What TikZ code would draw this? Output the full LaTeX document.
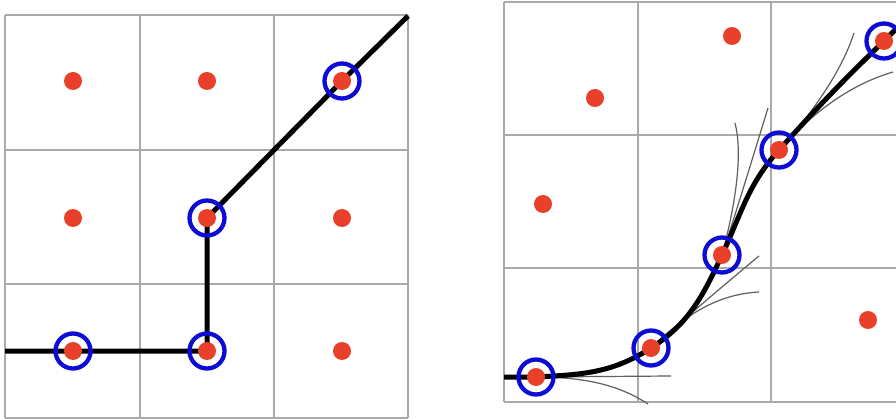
\documentclass[tikz,border=0pt]{standalone}
\definecolor{dotred}{RGB}{232,64,42}
\definecolor{ringblue}{RGB}{12,12,212}
\definecolor{gridgray}{RGB}{170,170,170}
\definecolor{tangray}{RGB}{95,95,95}
\tikzset{
  dot/.style={circle, fill=dotred, inner sep=0pt, minimum size=18pt},
  ring/.style={circle, draw=ringblue, line width=4.3pt, inner sep=0pt, minimum size=35pt},
  gridline/.style={draw=gridgray, line width=1.2pt},
  thickpath/.style={draw=black, line width=5pt, line join=round},
  tanline/.style={draw=tangray, line width=1.2pt},
}
\begin{document}
\begin{tikzpicture}[x=1pt,y=-1pt]
\useasboundingbox (0,0) rectangle (896,419);
\fill[white] (0,0) rectangle (896,419);
% ---------- left panel grid ----------
\foreach \x in {5,140,274,408} \draw[gridline] (\x,15) -- (\x,418);
\foreach \y in {15,150,284,418} \draw[gridline] (5,\y) -- (408,\y);
% ---------- right panel grid ----------
\foreach \x in {504,638,771} \draw[gridline] (\x,2) -- (\x,402);
\foreach \y in {2,135,268,402} \draw[gridline] (504,\y) -- (896,\y);
% ---------- left panel points ----------
\coordinate (L11) at (73,81);  \coordinate (L12) at (207,81);  \coordinate (L13) at (342,81);
\coordinate (L21) at (73,218); \coordinate (L22) at (207,218); \coordinate (L23) at (342,218);
\coordinate (L31) at (73,351); \coordinate (L32) at (207,351); \coordinate (L33) at (342,351);
\coordinate (Lin) at (5,351);
\coordinate (Lout) at (408,16);
\draw[thickpath] (Lin) -- (L31) -- (L32) -- (L22) -- (L13) -- (Lout);
\foreach \n in {L11,L12,L13,L21,L22,L23,L31,L32,L33} \node[dot] (d\n) at (\n) {};
\foreach \n in {L31,L32,L22,L13} \node[ring] (r\n) at (\n) {};
% ---------- right panel points ----------
\coordinate (Ra) at (595,98);
\coordinate (Rb) at (732,36);
\coordinate (Rc) at (543,204);
\coordinate (Rd) at (868,320);
\coordinate (R1) at (536,377);
\coordinate (R2) at (651,348);
\coordinate (R3) at (722,255);
\coordinate (R4) at (779,150);
\coordinate (R5) at (884,41);
\coordinate (Rin) at (504,377);
\coordinate (Rout) at (898,27);
% thin candidate curves
\coordinate (T1) at (671,376);
\coordinate (T2) at (648,404);
\coordinate (T3) at (759,256);
\coordinate (T4) at (759,292);
\coordinate (T5) at (768,108);
\coordinate (T6) at (735,123);
\coordinate (T7) at (854,33);
\coordinate (T8) at (893,72);
\draw[tanline] (R1) -- (T1);
\draw[tanline] (R1) .. controls (590,377) and (622,387) .. (T2);
\draw[tanline] (R2) .. controls (690,314) and (730,280) .. (T3);
\draw[tanline] (R2) .. controls (690,310) and (722,294) .. (T4);
\draw[tanline] (R3) .. controls (740,200) and (755,150) .. (T5);
\draw[tanline] (R3) .. controls (738,195) and (742,150) .. (T6);
\draw[tanline] (R4) .. controls (815,110) and (842,70) .. (T7);
\draw[tanline] (R4) .. controls (815,110) and (852,84) .. (T8);
% main curve
\draw[thickpath] (Rin) -- (R1) to[out=3,in=213] (R2) to[out=33,in=245] (R3)
  to[out=65,in=228] (R4) to[out=48,in=224] (R5) -- (Rout);
\foreach \n in {Ra,Rb,Rc,Rd,R1,R2,R3,R4,R5} \node[dot] (d\n) at (\n) {};
\foreach \n in {R1,R2,R3,R4,R5} \node[ring] (r\n) at (\n) {};
\end{tikzpicture}
\end{document}
